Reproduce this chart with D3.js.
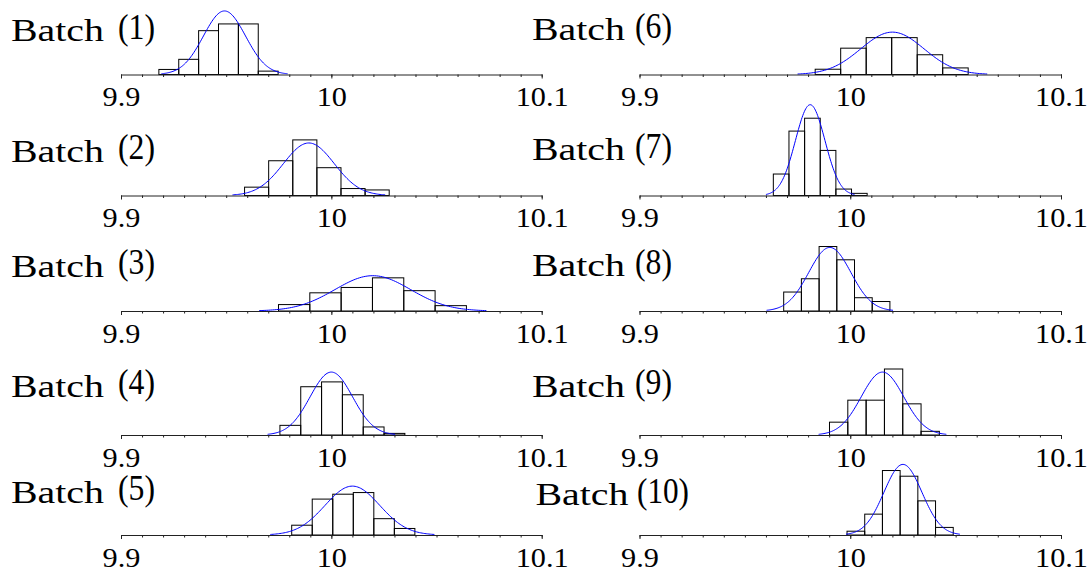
<!DOCTYPE html>
<html>
<head>
<meta charset="utf-8">
<script src="https://cdn.jsdelivr.net/npm/d3@7/dist/d3.min.js"></script>
<style>
  body { margin: 0; background: #fff; }
  text { font-family: "Liberation Serif", "Times New Roman", serif; fill: #000; }
</style>
</head>
<body>
<div id="chart"></div>
<script>
// Batch names
let batchLabels = ["(1)", "(2)", "(3)", "(4)", "(5)", "(6)", "(7)", "(8)", "(9)", "(10)"];

// Histogram bins: first edge, bin width and counts (100 samples per batch)
let binStart = [9.918, 9.95874, 9.97487, 9.97555, 9.98115, 9.98336, 9.9635, 9.96842, 9.99015, 9.99847];
let binWidth = [0.00945, 0.01146, 0.01489, 0.0099, 0.00976, 0.0121, 0.00742, 0.0084, 0.00869, 0.0084];
let binCounts = [
  [3, 9, 26, 30, 30, 2],
  [6, 25, 40, 20, 5, 4],
  [6, 17, 22, 31, 19, 5],
  [6, 30, 33, 25, 5, 1],
  [6, 22, 25, 26, 10, 4],
  [4, 20, 28, 28, 15, 5],
  [10, 30, 36, 21, 3, 1],
  [10, 17, 34, 27, 7, 5],
  [7, 19, 19, 36, 17, 2],
  [2, 11, 34, 31, 18, 4],
];
let sampleSize = 100;

// Fitted normal curve for each batch
let fitMean = [9.9492, 9.9893, 10.0197, 10.0, 10.01, 10.02, 9.981, 9.9903, 10.0153, 10.025];
let fitSigma = [0.01, 0.0121, 0.018, 0.0101, 0.013, 0.015, 0.007, 0.01, 0.0101, 0.009];

// Axis ticks
let majorTicks = [9.9, 10, 10.1];
let minorTicks = d3.range(0, 21).map((i) => +(9.9 + i * 0.01).toFixed(2));

// Layout
let width = 1091,
  height = 572;
let colRange = [
  [121, 541.7],
  [639.5, 1061],
];
let rowAxisY = [74.5, 195.5, 311, 435, 535];
let titleY = [
  [41, 161.7, 276.7, 396.7, 502.7],
  [40, 160, 276, 396.7, 505],
];
let pxPerDensity = 1.593;

let svg = d3
  .select("#chart")
  .append("svg")
  .attr("width", width)
  .attr("height", height);

// widen text a bit, the original font is wider than Liberation Serif
function stretchText(sel, k) {
  sel.each(function () {
    let w = this.getComputedTextLength();
    d3.select(this).attr("textLength", w * k).attr("lengthAdjust", "spacingAndGlyphs");
  });
}

batchLabels.forEach((label, i) => {
  let col = i < 5 ? 0 : 1;
  let row = i % 5;
  let axisY = rowAxisY[row];

  let x = d3.scaleLinear().domain([9.9, 10.1]).range(colRange[col]);
  let y = d3
    .scaleLinear()
    .domain([0, 1])
    .range([axisY, axisY - pxPerDensity]);

  let g = svg.append("g").attr("class", "panel");

  // histogram bars (density scaled)
  let bins = binCounts[i].map((c, j) => ({
    x0: binStart[i] + j * binWidth[i],
    x1: binStart[i] + (j + 1) * binWidth[i],
    density: c / (sampleSize * binWidth[i]),
  }));

  g.selectAll(".bar")
    .data(bins)
    .enter()
    .append("rect")
    .attr("class", "bar")
    .attr("x", (d) => x(d.x0))
    .attr("width", (d) => x(d.x1) - x(d.x0))
    .attr("y", (d) => y(d.density))
    .attr("height", (d) => y(0) - y(d.density))
    .attr("fill", "none")
    .attr("stroke", "#000")
    .attr("stroke-width", 1);

  // normal curve over mean +/- 3 sigma
  let m = fitMean[i],
    s = fitSigma[i];
  let xs = d3.range(0, 121).map((k) => m - 3 * s + (k * 6 * s) / 120);
  let line = d3
    .line()
    .x((v) => x(v))
    .y((v) => y(Math.exp(-0.5 * ((v - m) / s) ** 2) / (s * Math.sqrt(2 * Math.PI))));

  g.append("path")
    .datum(xs)
    .attr("d", line)
    .attr("fill", "none")
    .attr("stroke", "#0000ff")
    .attr("stroke-width", 1);

  // minor ticks
  g.append("g")
    .attr("transform", `translate(0,${axisY})`)
    .call(d3.axisBottom(x).tickValues(minorTicks).tickSize(2.5).tickSizeOuter(0).tickFormat(""))
    .call((a) => a.select(".domain").attr("stroke", "#222"))
    .call((a) => a.selectAll(".tick line").attr("stroke", "#222"));

  // major ticks and labels
  let major = g
    .append("g")
    .attr("transform", `translate(0,${axisY})`)
    .call(d3.axisBottom(x).tickValues(majorTicks).tickSize(4).tickSizeOuter(0).tickPadding(0).tickFormat(d3.format("")))
    .attr("font-family", "Liberation Serif, serif")
    .attr("font-size", 28);
  major.select(".domain").remove();
  major.selectAll(".tick line").attr("stroke", "#222");
  major
    .selectAll(".tick text")
    .attr("dy", null)
    .attr("y", 31.5)
    .attr("font-family", "Liberation Serif, serif")
    .call(stretchText, 1.08);

  // title
  let tx = col === 0 ? 11 : i === 9 ? 535.5 : 532;
  let px = col === 0 ? 118 : i === 9 ? 637 : 635;
  let ty = titleY[col][row];

  g.append("text")
    .attr("x", tx)
    .attr("y", ty)
    .style("font-size", "31px")
    .text("Batch")
    .attr("textLength", 93)
    .attr("lengthAdjust", "spacingAndGlyphs");

  g.append("text")
    .attr("x", px)
    .attr("y", ty - 2.5)
    .style("font-size", "36px")
    .text(label)
    .attr("textLength", label.length > 3 ? 52 : 37)
    .attr("lengthAdjust", "spacingAndGlyphs");
});
</script>
</body>
</html>
